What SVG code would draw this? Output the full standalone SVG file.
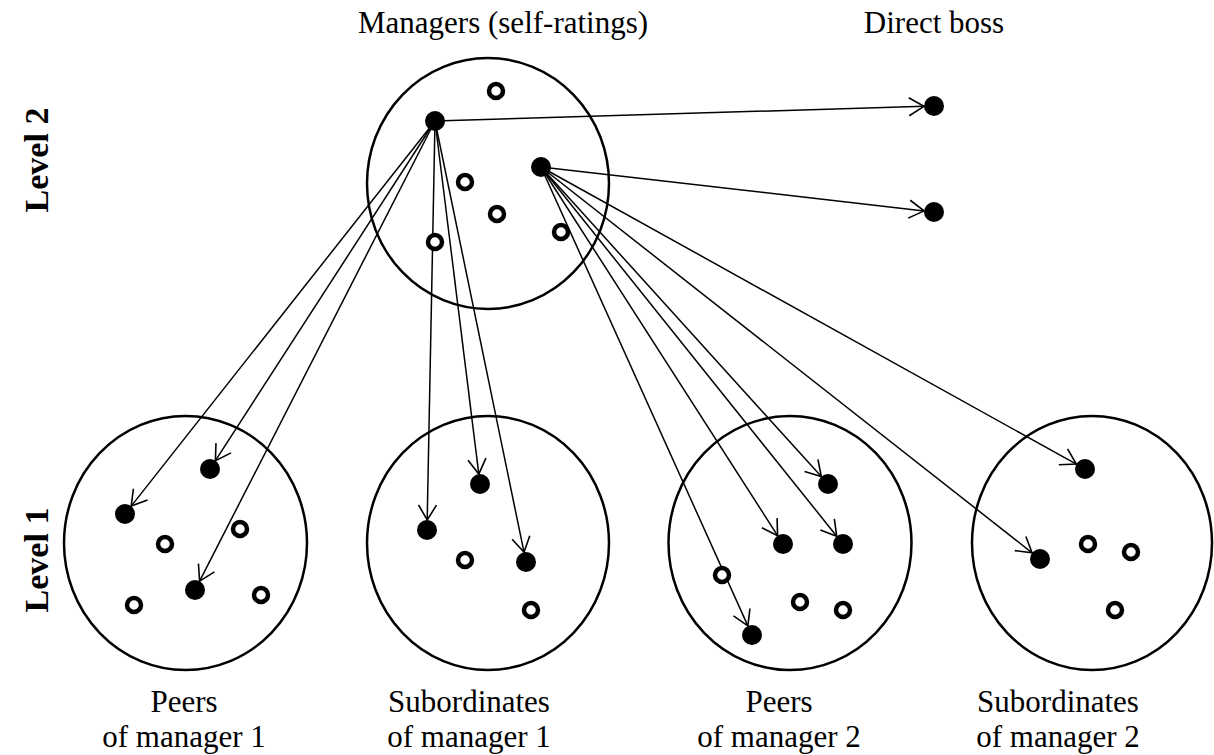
<svg xmlns="http://www.w3.org/2000/svg" width="1214" height="755" viewBox="0 0 1214 755">
<style>
.grp{fill:none;stroke:#000;stroke-width:2.5}
.dot{fill:#000}
.ring{fill:#fff;stroke:#000;stroke-width:4.5}
.lbl{font-family:"Liberation Serif","Times New Roman",serif;font-size:31px;fill:#000}
.lvl{font-family:"Liberation Serif","Times New Roman",serif;font-size:34px;font-weight:bold;fill:#000}
.arr{stroke:#000;stroke-width:1.5;fill:none;marker-end:url(#ah)}
</style>
<defs>
<marker id="ah" markerUnits="userSpaceOnUse" orient="auto" refX="0" refY="0" markerWidth="20" markerHeight="20" overflow="visible">
<path d="M-15,-9 L0,0 L-15,9" fill="none" stroke="#000" stroke-width="1.6"/>
</marker>
</defs>
<rect width="1214" height="755" fill="#fff"/>

<text class="lbl" x="358" y="33">Managers (self-ratings)</text>
<text class="lbl" x="934" y="33" text-anchor="middle">Direct boss</text>
<text class="lvl" transform="translate(48,160) rotate(-90)" text-anchor="middle">Level 2</text>
<text class="lvl" transform="translate(48,560) rotate(-90)" text-anchor="middle">Level 1</text>

<g id="managers">
<ellipse class="grp" cx="488" cy="183.5" rx="121" ry="125.5"/>
</g>
<g id="peers1">
<ellipse class="grp" cx="185.5" cy="543" rx="121.5" ry="127"/>
<text class="lbl" x="184" y="712" text-anchor="middle">Peers</text>
<text class="lbl" x="184" y="747" text-anchor="middle">of manager 1</text>
</g>
<g id="subordinates1">
<ellipse class="grp" cx="488" cy="543" rx="121" ry="127"/>
<text class="lbl" x="469" y="712" text-anchor="middle">Subordinates</text>
<text class="lbl" x="469" y="747" text-anchor="middle">of manager 1</text>
</g>
<g id="peers2">
<ellipse class="grp" cx="790" cy="543" rx="121.5" ry="127"/>
<text class="lbl" x="779" y="712" text-anchor="middle">Peers</text>
<text class="lbl" x="779" y="747" text-anchor="middle">of manager 2</text>
</g>
<g id="subordinates2">
<ellipse class="grp" cx="1092" cy="543" rx="120" ry="127"/>
<text class="lbl" x="1058" y="712" text-anchor="middle">Subordinates</text>
<text class="lbl" x="1058" y="747" text-anchor="middle">of manager 2</text>
</g>

<g id="connectors">
<line class="arr" x1="435" y1="121" x2="924" y2="106.3"/>
<line class="arr" x1="435" y1="121" x2="131.2" y2="506.1"/>
<line class="arr" x1="435" y1="121" x2="215.4" y2="460.6"/>
<line class="arr" x1="435" y1="121" x2="199.6" y2="581.1"/>
<line class="arr" x1="435" y1="121" x2="427.2" y2="520"/>
<line class="arr" x1="435" y1="121" x2="478.8" y2="474.1"/>
<line class="arr" x1="435" y1="121" x2="524" y2="552.2"/>
<line class="arr" x1="541" y1="167" x2="924.1" y2="210.9"/>
<line class="arr" x1="541" y1="167" x2="821.3" y2="476.6"/>
<line class="arr" x1="541" y1="167" x2="777.6" y2="535.6"/>
<line class="arr" x1="541" y1="167" x2="836.7" y2="536.2"/>
<line class="arr" x1="541" y1="167" x2="747.9" y2="625.9"/>
<line class="arr" x1="541" y1="167" x2="1076.3" y2="464.1"/>
<line class="arr" x1="541" y1="167" x2="1032.1" y2="552.8"/>
</g>

<g id="points">
<circle class="dot" cx="435" cy="121" r="10"/>
<circle class="dot" cx="541" cy="167" r="10"/>
<circle class="ring" cx="496" cy="91" r="7"/>
<circle class="ring" cx="465" cy="182" r="7"/>
<circle class="ring" cx="497" cy="214" r="7"/>
<circle class="ring" cx="435" cy="242" r="7"/>
<circle class="ring" cx="561" cy="232" r="7"/>
<circle class="dot" cx="934" cy="106" r="10"/>
<circle class="dot" cx="934" cy="212" r="10"/>
<circle class="dot" cx="210" cy="469" r="10"/>
<circle class="dot" cx="125" cy="514" r="10"/>
<circle class="dot" cx="195" cy="590" r="10"/>
<circle class="ring" cx="165" cy="544" r="7"/>
<circle class="ring" cx="240" cy="529" r="7"/>
<circle class="ring" cx="134" cy="605" r="7"/>
<circle class="ring" cx="261" cy="595" r="7"/>
<circle class="dot" cx="480" cy="484" r="10"/>
<circle class="dot" cx="427" cy="530" r="10"/>
<circle class="dot" cx="526" cy="562" r="10"/>
<circle class="ring" cx="465" cy="560" r="7"/>
<circle class="ring" cx="531" cy="610" r="7"/>
<circle class="dot" cx="828" cy="484" r="10"/>
<circle class="dot" cx="783" cy="544" r="10"/>
<circle class="dot" cx="843" cy="544" r="10"/>
<circle class="dot" cx="752" cy="635" r="10"/>
<circle class="ring" cx="722" cy="575" r="7"/>
<circle class="ring" cx="800" cy="602" r="7"/>
<circle class="ring" cx="843" cy="610" r="7"/>
<circle class="dot" cx="1085" cy="469" r="10"/>
<circle class="dot" cx="1040" cy="559" r="10"/>
<circle class="ring" cx="1088" cy="544" r="7"/>
<circle class="ring" cx="1131" cy="552" r="7"/>
<circle class="ring" cx="1115" cy="610" r="7"/>
</g>
</svg>
